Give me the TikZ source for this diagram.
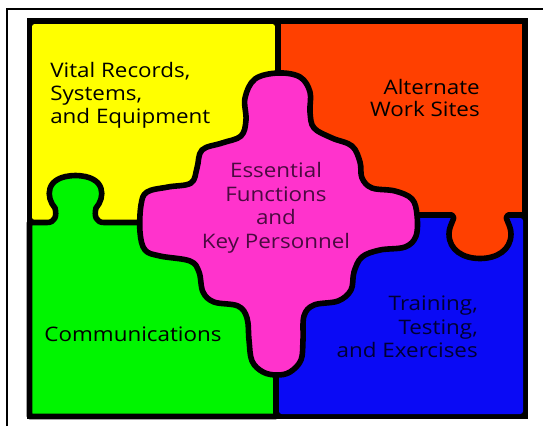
\documentclass[tikz,border=0pt]{standalone}
\usepackage{fontspec}
\newfontfamily\handfont[FakeStretch=1.12]{Open Sans}
\definecolor{pyellow}{HTML}{FFFF00}
\definecolor{porange}{HTML}{FF4000}
\definecolor{pgreen}{HTML}{00F500}
\definecolor{pblue}{HTML}{0A0AF5}
\definecolor{ppink}{HTML}{FF33CC}
\definecolor{pinktext}{HTML}{4A0A40}
\definecolor{bluetext}{HTML}{000033}
\begin{document}
\begin{tikzpicture}[x=0.75pt,y=-0.75pt,
  outline/.style={draw=black,line width=4.2pt,line join=round},
  lbl/.style={font=\handfont\fontsize{15}{18}\selectfont,inner sep=0pt,text=black}]
\useasboundingbox (0,0) rectangle (543,426);
\fill[white] (0,0) rectangle (543,426);
\draw[line width=1.5pt] (7,426) -- (7,9) -- (543,9);
\fill[black] (27,18) rectangle (528,419);
\fill[pyellow, rounded corners=2pt] (32,24) rectangle (275,220);
\fill[pblue, rounded corners=2pt] (279,218) rectangle (523,414);
% green piece with knob
\filldraw[outline, fill=pgreen] (29.5,222.5) -- (47,222.5)
  .. controls (55,222.5) and (57,216) .. (55,208)
  .. controls (46,198) and (44,176) .. (75.5,175.5)
  .. controls (107,176) and (105,198) .. (96,208)
  .. controls (94,216) and (96,222.5) .. (104,222.5)
  -- (276,222.5) -- (276,416.5) -- (29.5,416.5) -- cycle;
% orange piece with knob
\filldraw[outline, fill=porange] (278,21) -- (525,21) -- (525,215) -- (508,215)
  .. controls (503,217) and (511,224) .. (511,234)
  .. controls (511,250) and (497,258.5) .. (480,258.5)
  .. controls (463,258.5) and (449,250) .. (449,234)
  .. controls (449,224) and (457,217) .. (452,215)
  -- (278,215) -- cycle;
% pink cross
\filldraw[outline, fill=ppink] plot[smooth cycle, tension=0.6] coordinates {
(278,73) (300,77) (310,92) (310,112) (314,128) (332,138) (352,146) (360,162)
(362,178) (372,188) (395,191) (412,199) (417,215) (416,236) (405,247) (380,250)
(362,257) (354,272) (351,290) (338,301) (314,305) (304,316) (303,340) (301,360)
(290,372) (277,375) (263,372) (252,361) (249,340) (247,318) (238,306) (214,302)
(203,292) (199,272) (190,261) (160,256) (145,250) (140,232) (141,205) (147,192)
(168,187) (191,183) (197,168) (202,150) (222,143) (241,136) (246,120) (245,98)
(255,79)};
% labels
\node[lbl, anchor=base west] (y1) at (50,77) {Vital Records,};
\node[lbl, anchor=base west] (y2) at (50,100) {Systems,};
\node[lbl, anchor=base west] (y3) at (50,123) {and Equipment};
\node[lbl, anchor=base east] (o1) at (480,94) {Alternate};
\node[lbl, anchor=base east] (o2) at (480,116) {Work Sites};
\node[lbl, anchor=base, text=pinktext] (p1) at (276,177) {Essential};
\node[lbl, anchor=base, text=pinktext] (p2) at (276,201) {Functions};
\node[lbl, anchor=base, text=pinktext] (p3) at (276,224) {and};
\node[lbl, anchor=base, text=pinktext] (p4) at (276,248) {Key Personnel};
\node[lbl, anchor=base] (g1) at (133,341) {Communications};
\node[lbl, anchor=base east, text=bluetext] (b1) at (478,310) {Training,};
\node[lbl, anchor=base east, text=bluetext] (b2) at (478,334) {Testing,};
\node[lbl, anchor=base east, text=bluetext] (b3) at (478,357) {and Exercises};
\end{tikzpicture}
\end{document}
